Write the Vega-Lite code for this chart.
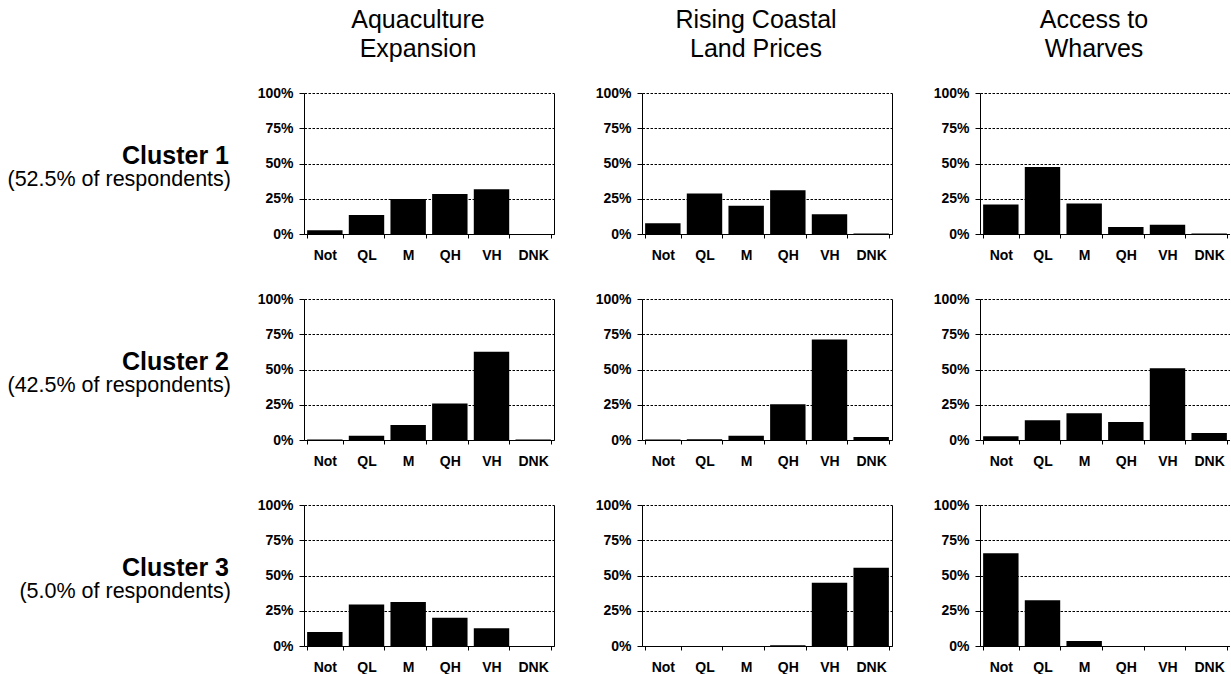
{
  "$schema": "https://vega.github.io/schema/vega-lite/v6.json",
  "padding": {"top": 8, "left": 0, "right": 0, "bottom": 0},
  "background": "white",
  "datasets": {
    "d": [
      {"cluster": "1", "factor": "A", "level": "Not", "pct": 2.6},
      {"cluster": "1", "factor": "A", "level": "QL", "pct": 13.5},
      {"cluster": "1", "factor": "A", "level": "M", "pct": 24.9},
      {"cluster": "1", "factor": "A", "level": "QH", "pct": 28.4},
      {"cluster": "1", "factor": "A", "level": "VH", "pct": 31.8},
      {"cluster": "1", "factor": "A", "level": "DNK", "pct": 0},
      {"cluster": "1", "factor": "L", "level": "Not", "pct": 7.6},
      {"cluster": "1", "factor": "L", "level": "QL", "pct": 28.7},
      {"cluster": "1", "factor": "L", "level": "M", "pct": 20.1},
      {"cluster": "1", "factor": "L", "level": "QH", "pct": 31.0},
      {"cluster": "1", "factor": "L", "level": "VH", "pct": 14.0},
      {"cluster": "1", "factor": "L", "level": "DNK", "pct": 0.4},
      {"cluster": "1", "factor": "W", "level": "Not", "pct": 20.9},
      {"cluster": "1", "factor": "W", "level": "QL", "pct": 47.6},
      {"cluster": "1", "factor": "W", "level": "M", "pct": 21.6},
      {"cluster": "1", "factor": "W", "level": "QH", "pct": 5.0},
      {"cluster": "1", "factor": "W", "level": "VH", "pct": 6.6},
      {"cluster": "1", "factor": "W", "level": "DNK", "pct": 0.4},
      {"cluster": "2", "factor": "A", "level": "Not", "pct": 0.4},
      {"cluster": "2", "factor": "A", "level": "QL", "pct": 3.1},
      {"cluster": "2", "factor": "A", "level": "M", "pct": 10.6},
      {"cluster": "2", "factor": "A", "level": "QH", "pct": 25.8},
      {"cluster": "2", "factor": "A", "level": "VH", "pct": 62.6},
      {"cluster": "2", "factor": "A", "level": "DNK", "pct": 0.4},
      {"cluster": "2", "factor": "L", "level": "Not", "pct": 0.3},
      {"cluster": "2", "factor": "L", "level": "QL", "pct": 0.6},
      {"cluster": "2", "factor": "L", "level": "M", "pct": 3.1},
      {"cluster": "2", "factor": "L", "level": "QH", "pct": 25.3},
      {"cluster": "2", "factor": "L", "level": "VH", "pct": 71.2},
      {"cluster": "2", "factor": "L", "level": "DNK", "pct": 2.1},
      {"cluster": "2", "factor": "W", "level": "Not", "pct": 2.6},
      {"cluster": "2", "factor": "W", "level": "QL", "pct": 14.0},
      {"cluster": "2", "factor": "W", "level": "M", "pct": 18.9},
      {"cluster": "2", "factor": "W", "level": "QH", "pct": 12.8},
      {"cluster": "2", "factor": "W", "level": "VH", "pct": 50.8},
      {"cluster": "2", "factor": "W", "level": "DNK", "pct": 5.0},
      {"cluster": "3", "factor": "A", "level": "Not", "pct": 10.0},
      {"cluster": "3", "factor": "A", "level": "QL", "pct": 29.5},
      {"cluster": "3", "factor": "A", "level": "M", "pct": 31.2},
      {"cluster": "3", "factor": "A", "level": "QH", "pct": 20.0},
      {"cluster": "3", "factor": "A", "level": "VH", "pct": 12.6},
      {"cluster": "3", "factor": "A", "level": "DNK", "pct": 0},
      {"cluster": "3", "factor": "L", "level": "Not", "pct": 0},
      {"cluster": "3", "factor": "L", "level": "QL", "pct": 0},
      {"cluster": "3", "factor": "L", "level": "M", "pct": 0},
      {"cluster": "3", "factor": "L", "level": "QH", "pct": 0.6},
      {"cluster": "3", "factor": "L", "level": "VH", "pct": 44.8},
      {"cluster": "3", "factor": "L", "level": "DNK", "pct": 55.5},
      {"cluster": "3", "factor": "W", "level": "Not", "pct": 65.7},
      {"cluster": "3", "factor": "W", "level": "QL", "pct": 32.4},
      {"cluster": "3", "factor": "W", "level": "M", "pct": 3.6},
      {"cluster": "3", "factor": "W", "level": "QH", "pct": 0},
      {"cluster": "3", "factor": "W", "level": "VH", "pct": 0},
      {"cluster": "3", "factor": "W", "level": "DNK", "pct": 0}
    ],
    "labels": [
      {"cluster": "Cluster 1", "share": "(52.5% of respondents)"},
      {"cluster": "Cluster 2", "share": "(42.5% of respondents)"},
      {"cluster": "Cluster 3", "share": "(5.0% of respondents)"}
    ]
  },
  "columns": 4,
  "spacing": {"row": 65, "column": 88},
  "bounds": "flush",
  "align": "each",
  "concat": [
    {"width": 215, "height": 141, "data": {"name": "labels"}, "view": {"stroke": "white"},
     "transform": [{"filter": "datum.cluster == 'Cluster 1'"}],
     "layer": [
       {"mark": {"type": "text", "align": "right", "baseline": "alphabetic", "fontSize": 25, "fontWeight": "bold", "dx": 13},
        "encoding": {"text": {"field": "cluster"}, "x": {"datum": 1, "type": "quantitative", "scale": {"domain": [0, 1]}, "axis": null}}},
       {"mark": {"type": "text", "align": "right", "baseline": "alphabetic", "fontSize": 21.5, "dx": 15, "dy": 22},
        "encoding": {"text": {"field": "share"}, "x": {"datum": 1, "type": "quantitative", "scale": {"domain": [0, 1]}, "axis": null}}}
     ]},
    {"width": 250, "height": 141, "data": {"name": "d"},
     "title": {"text": ["Aquaculture", "Expansion"], "dx": -11},
     "transform": [{"filter": "datum.cluster == '1' && datum.factor == 'A'"}],
     "layer": [
       {"mark": {"type": "bar", "color": "black"},
        "encoding": {
          "x": {"field": "level", "type": "nominal", "scale": {"domain": ["Not", "QL", "M", "QH", "VH", "DNK"], "paddingInner": 0.15, "paddingOuter": 0.075}, "axis": {"title": null}},
          "y": {"field": "pct", "type": "quantitative", "scale": {"domain": [0, 100]}, "axis": {"title": null, "values": [0, 25, 50, 75, 100], "labelExpr": "datum.value + '%'"}}}},
       {"mark": {"type": "bar", "opacity": 0},
        "encoding": {
          "x": {"field": "level", "type": "nominal", "axis": {"title": null}},
          "y": {"field": "pct", "type": "quantitative", "axis": {"title": null, "orient": "right", "labels": false, "ticks": false, "grid": false, "domain": true, "domainColor": "black", "domainWidth": 1, "domainOpacity": 1}}}}
     ],
     "resolve": {"axis": {"y": "independent"}}},
    {"width": 250, "height": 141, "data": {"name": "d"},
     "title": {"text": ["Rising Coastal", "Land Prices"], "dx": -11},
     "transform": [{"filter": "datum.cluster == '1' && datum.factor == 'L'"}],
     "layer": [
       {"mark": {"type": "bar", "color": "black"},
        "encoding": {
          "x": {"field": "level", "type": "nominal", "scale": {"domain": ["Not", "QL", "M", "QH", "VH", "DNK"], "paddingInner": 0.15, "paddingOuter": 0.075}, "axis": {"title": null}},
          "y": {"field": "pct", "type": "quantitative", "scale": {"domain": [0, 100]}, "axis": {"title": null, "values": [0, 25, 50, 75, 100], "labelExpr": "datum.value + '%'"}}}},
       {"mark": {"type": "bar", "opacity": 0},
        "encoding": {
          "x": {"field": "level", "type": "nominal", "axis": {"title": null}},
          "y": {"field": "pct", "type": "quantitative", "axis": {"title": null, "orient": "right", "labels": false, "ticks": false, "grid": false, "domain": true, "domainColor": "black", "domainWidth": 1, "domainOpacity": 1}}}}
     ],
     "resolve": {"axis": {"y": "independent"}}},
    {"width": 250, "height": 141, "data": {"name": "d"},
     "title": {"text": ["Access to", "Wharves"], "dx": -11},
     "transform": [{"filter": "datum.cluster == '1' && datum.factor == 'W'"}],
     "layer": [
       {"mark": {"type": "bar", "color": "black"},
        "encoding": {
          "x": {"field": "level", "type": "nominal", "scale": {"domain": ["Not", "QL", "M", "QH", "VH", "DNK"], "paddingInner": 0.15, "paddingOuter": 0.075}, "axis": {"title": null}},
          "y": {"field": "pct", "type": "quantitative", "scale": {"domain": [0, 100]}, "axis": {"title": null, "values": [0, 25, 50, 75, 100], "labelExpr": "datum.value + '%'"}}}},
       {"mark": {"type": "bar", "opacity": 0},
        "encoding": {
          "x": {"field": "level", "type": "nominal", "axis": {"title": null}},
          "y": {"field": "pct", "type": "quantitative", "axis": {"title": null, "orient": "right", "labels": false, "ticks": false, "grid": false, "domain": true, "domainColor": "black", "domainWidth": 1, "domainOpacity": 1}}}}
     ],
     "resolve": {"axis": {"y": "independent"}}},
    {"width": 215, "height": 141, "data": {"name": "labels"}, "view": {"stroke": "white"},
     "transform": [{"filter": "datum.cluster == 'Cluster 2'"}],
     "layer": [
       {"mark": {"type": "text", "align": "right", "baseline": "alphabetic", "fontSize": 25, "fontWeight": "bold", "dx": 13},
        "encoding": {"text": {"field": "cluster"}, "x": {"datum": 1, "type": "quantitative", "scale": {"domain": [0, 1]}, "axis": null}}},
       {"mark": {"type": "text", "align": "right", "baseline": "alphabetic", "fontSize": 21.5, "dx": 15, "dy": 22},
        "encoding": {"text": {"field": "share"}, "x": {"datum": 1, "type": "quantitative", "scale": {"domain": [0, 1]}, "axis": null}}}
     ]},
    {"width": 250, "height": 141, "data": {"name": "d"},
     "transform": [{"filter": "datum.cluster == '2' && datum.factor == 'A'"}],
     "layer": [
       {"mark": {"type": "bar", "color": "black"},
        "encoding": {
          "x": {"field": "level", "type": "nominal", "scale": {"domain": ["Not", "QL", "M", "QH", "VH", "DNK"], "paddingInner": 0.15, "paddingOuter": 0.075}, "axis": {"title": null}},
          "y": {"field": "pct", "type": "quantitative", "scale": {"domain": [0, 100]}, "axis": {"title": null, "values": [0, 25, 50, 75, 100], "labelExpr": "datum.value + '%'"}}}},
       {"mark": {"type": "bar", "opacity": 0},
        "encoding": {
          "x": {"field": "level", "type": "nominal", "axis": {"title": null}},
          "y": {"field": "pct", "type": "quantitative", "axis": {"title": null, "orient": "right", "labels": false, "ticks": false, "grid": false, "domain": true, "domainColor": "black", "domainWidth": 1, "domainOpacity": 1}}}}
     ],
     "resolve": {"axis": {"y": "independent"}}},
    {"width": 250, "height": 141, "data": {"name": "d"},
     "transform": [{"filter": "datum.cluster == '2' && datum.factor == 'L'"}],
     "layer": [
       {"mark": {"type": "bar", "color": "black"},
        "encoding": {
          "x": {"field": "level", "type": "nominal", "scale": {"domain": ["Not", "QL", "M", "QH", "VH", "DNK"], "paddingInner": 0.15, "paddingOuter": 0.075}, "axis": {"title": null}},
          "y": {"field": "pct", "type": "quantitative", "scale": {"domain": [0, 100]}, "axis": {"title": null, "values": [0, 25, 50, 75, 100], "labelExpr": "datum.value + '%'"}}}},
       {"mark": {"type": "bar", "opacity": 0},
        "encoding": {
          "x": {"field": "level", "type": "nominal", "axis": {"title": null}},
          "y": {"field": "pct", "type": "quantitative", "axis": {"title": null, "orient": "right", "labels": false, "ticks": false, "grid": false, "domain": true, "domainColor": "black", "domainWidth": 1, "domainOpacity": 1}}}}
     ],
     "resolve": {"axis": {"y": "independent"}}},
    {"width": 250, "height": 141, "data": {"name": "d"},
     "transform": [{"filter": "datum.cluster == '2' && datum.factor == 'W'"}],
     "layer": [
       {"mark": {"type": "bar", "color": "black"},
        "encoding": {
          "x": {"field": "level", "type": "nominal", "scale": {"domain": ["Not", "QL", "M", "QH", "VH", "DNK"], "paddingInner": 0.15, "paddingOuter": 0.075}, "axis": {"title": null}},
          "y": {"field": "pct", "type": "quantitative", "scale": {"domain": [0, 100]}, "axis": {"title": null, "values": [0, 25, 50, 75, 100], "labelExpr": "datum.value + '%'"}}}},
       {"mark": {"type": "bar", "opacity": 0},
        "encoding": {
          "x": {"field": "level", "type": "nominal", "axis": {"title": null}},
          "y": {"field": "pct", "type": "quantitative", "axis": {"title": null, "orient": "right", "labels": false, "ticks": false, "grid": false, "domain": true, "domainColor": "black", "domainWidth": 1, "domainOpacity": 1}}}}
     ],
     "resolve": {"axis": {"y": "independent"}}},
    {"width": 215, "height": 141, "data": {"name": "labels"}, "view": {"stroke": "white"},
     "transform": [{"filter": "datum.cluster == 'Cluster 3'"}],
     "layer": [
       {"mark": {"type": "text", "align": "right", "baseline": "alphabetic", "fontSize": 25, "fontWeight": "bold", "dx": 13},
        "encoding": {"text": {"field": "cluster"}, "x": {"datum": 1, "type": "quantitative", "scale": {"domain": [0, 1]}, "axis": null}}},
       {"mark": {"type": "text", "align": "right", "baseline": "alphabetic", "fontSize": 21.5, "dx": 15, "dy": 22},
        "encoding": {"text": {"field": "share"}, "x": {"datum": 1, "type": "quantitative", "scale": {"domain": [0, 1]}, "axis": null}}}
     ]},
    {"width": 250, "height": 141, "data": {"name": "d"},
     "transform": [{"filter": "datum.cluster == '3' && datum.factor == 'A'"}],
     "layer": [
       {"mark": {"type": "bar", "color": "black"},
        "encoding": {
          "x": {"field": "level", "type": "nominal", "scale": {"domain": ["Not", "QL", "M", "QH", "VH", "DNK"], "paddingInner": 0.15, "paddingOuter": 0.075}, "axis": {"title": null}},
          "y": {"field": "pct", "type": "quantitative", "scale": {"domain": [0, 100]}, "axis": {"title": null, "values": [0, 25, 50, 75, 100], "labelExpr": "datum.value + '%'"}}}},
       {"mark": {"type": "bar", "opacity": 0},
        "encoding": {
          "x": {"field": "level", "type": "nominal", "axis": {"title": null}},
          "y": {"field": "pct", "type": "quantitative", "axis": {"title": null, "orient": "right", "labels": false, "ticks": false, "grid": false, "domain": true, "domainColor": "black", "domainWidth": 1, "domainOpacity": 1}}}}
     ],
     "resolve": {"axis": {"y": "independent"}}},
    {"width": 250, "height": 141, "data": {"name": "d"},
     "transform": [{"filter": "datum.cluster == '3' && datum.factor == 'L'"}],
     "layer": [
       {"mark": {"type": "bar", "color": "black"},
        "encoding": {
          "x": {"field": "level", "type": "nominal", "scale": {"domain": ["Not", "QL", "M", "QH", "VH", "DNK"], "paddingInner": 0.15, "paddingOuter": 0.075}, "axis": {"title": null}},
          "y": {"field": "pct", "type": "quantitative", "scale": {"domain": [0, 100]}, "axis": {"title": null, "values": [0, 25, 50, 75, 100], "labelExpr": "datum.value + '%'"}}}},
       {"mark": {"type": "bar", "opacity": 0},
        "encoding": {
          "x": {"field": "level", "type": "nominal", "axis": {"title": null}},
          "y": {"field": "pct", "type": "quantitative", "axis": {"title": null, "orient": "right", "labels": false, "ticks": false, "grid": false, "domain": true, "domainColor": "black", "domainWidth": 1, "domainOpacity": 1}}}}
     ],
     "resolve": {"axis": {"y": "independent"}}},
    {"width": 250, "height": 141, "data": {"name": "d"},
     "transform": [{"filter": "datum.cluster == '3' && datum.factor == 'W'"}],
     "layer": [
       {"mark": {"type": "bar", "color": "black"},
        "encoding": {
          "x": {"field": "level", "type": "nominal", "scale": {"domain": ["Not", "QL", "M", "QH", "VH", "DNK"], "paddingInner": 0.15, "paddingOuter": 0.075}, "axis": {"title": null}},
          "y": {"field": "pct", "type": "quantitative", "scale": {"domain": [0, 100]}, "axis": {"title": null, "values": [0, 25, 50, 75, 100], "labelExpr": "datum.value + '%'"}}}},
       {"mark": {"type": "bar", "opacity": 0},
        "encoding": {
          "x": {"field": "level", "type": "nominal", "axis": {"title": null}},
          "y": {"field": "pct", "type": "quantitative", "axis": {"title": null, "orient": "right", "labels": false, "ticks": false, "grid": false, "domain": true, "domainColor": "black", "domainWidth": 1, "domainOpacity": 1}}}}
     ],
     "resolve": {"axis": {"y": "independent"}}}
  ],
  "config": {
    "font": "Liberation Sans",
    "view": {"stroke": null},
    "text": {"font": "Liberation Sans", "color": "black"},
    "axis": {"labelFont": "Liberation Sans", "labelFontSize": 14, "labelFontWeight": "bold", "labelColor": "black", "domainColor": "black", "domainWidth": 1, "tickColor": "black", "tickWidth": 1},
    "axisX": {"labelAngle": 0, "tickBand": "extent", "tickSize": 4, "labelPadding": 10, "grid": false, "zindex": 1},
    "axisY": {"grid": true, "gridColor": "black", "gridDash": [2.5, 1.5], "gridWidth": 1, "gridOpacity": 1, "tickSize": 5, "labelPadding": 6},
    "title": {"font": "Liberation Sans", "fontSize": 25, "fontWeight": "normal", "color": "black", "lineHeight": 29, "baseline": "alphabetic", "anchor": "middle", "offset": 24}
  }
}
